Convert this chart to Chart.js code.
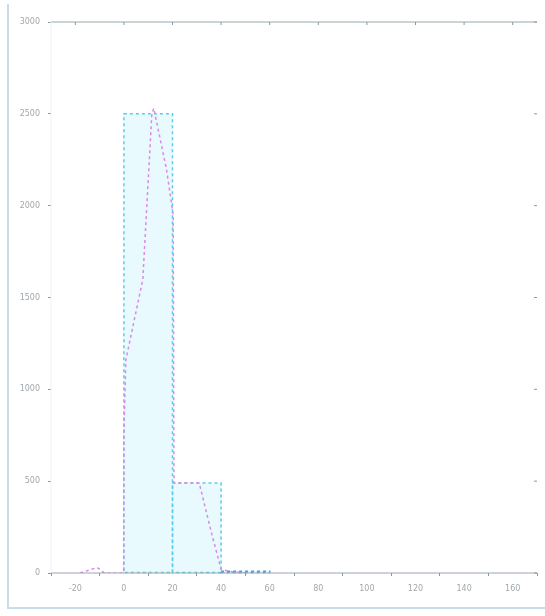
<!DOCTYPE html>
<html>
  <head>
    <title>Histogram</title>
    <script src="https://cdn.jsdelivr.net/npm/chart.js"></script>
    <style>
      body { margin: 0; background: #fff; }
      #wrap { width: 545px; height: 616px; }
    </style>
  </head>
  <body>
    <div id="wrap"><canvas id="hist"></canvas></div>

    <script>
      // histogram bins (centres) and counts
      const binCenters = [10, 30, 50];
      const binCounts = [2500, 490, 10];

      // fitted curve
      const curveX = [-18, -11, -8, -0.1, 0, 0.8, 7.8, 11.5, 12.3, 17.5, 20.3, 20.6, 31, 36, 40, 45, 50];
      const curveY = [0, 30, 0, 0, 760, 1160, 1600, 2500, 2530, 2200, 1950, 490, 490, 220, 20, 5, 0];

      // tick labels
      const xTicks = [-20, 0, 20, 40, 60, 80, 100, 120, 140, 160];
      const yTicks = [0, 500, 1000, 1500, 2000, 2500, 3000];

      const barData = binCenters.map((x, i) => ({ x: x, y: binCounts[i] }));
      const curveData = curveX.map((x, i) => ({ x: x, y: curveY[i] }));

      // draw dashed bar outlines, plot box and outer frame
      const framePlugin = {
        id: 'frame',
        beforeDraw(chart) {
          const ctx = chart.ctx;
          ctx.save();
          ctx.strokeStyle = '#c9dde9';
          ctx.lineWidth = 2;
          ctx.beginPath();
          ctx.moveTo(8, 4);
          ctx.lineTo(8, 608);
          ctx.lineTo(chart.width, 608);
          ctx.stroke();
          ctx.restore();
        },
        beforeDatasetDraw(chart, args) {
          // outline the bars before the curve is drawn on top
          if (args.index !== 0) return;
          const ctx = chart.ctx;
          const meta = chart.getDatasetMeta(1);
          ctx.save();
          ctx.setLineDash([3, 3]);
          ctx.lineWidth = 1.5;
          meta.data.forEach((bar, i) => {
            const p = bar.getProps(['x', 'y', 'base', 'width'], true);
            ctx.strokeStyle = i == 2 ? '#4a9fdc' : '#5ccbee';
            ctx.strokeRect(p.x - p.width / 2, p.y, p.width, p.base - p.y);
          });
          ctx.restore();
        },
        afterDatasetsDraw(chart) {
          const ctx = chart.ctx;
          const a = chart.chartArea;
          ctx.save();
          ctx.strokeStyle = '#9aa7b0';
          ctx.lineWidth = 1;
          ctx.beginPath();
          ctx.moveTo(a.left, a.top);
          ctx.lineTo(a.right, a.top);
          ctx.moveTo(a.left, a.bottom);
          ctx.lineTo(a.right, a.bottom);
          ctx.stroke();
          ctx.strokeStyle = '#eef1f3';
          ctx.beginPath();
          ctx.moveTo(a.left, a.top);
          ctx.lineTo(a.left, a.bottom);
          ctx.stroke();
          // mirrored ticks on top and right
          ctx.strokeStyle = '#8a98a2';
          ctx.beginPath();
          const xs = chart.scales.x, ys = chart.scales.y;
          xTicks.forEach(v => {
            const px = xs.getPixelForValue(v);
            ctx.moveTo(px, a.top);
            ctx.lineTo(px, a.top + 3);
          });
          yTicks.forEach(v => {
            const py = ys.getPixelForValue(v);
            ctx.moveTo(a.right, py);
            ctx.lineTo(a.right - 3, py);
          });
          ctx.stroke();
          ctx.restore();
        }
      };

      new Chart(document.getElementById('hist'), {
        type: 'bar',
        data: {
          datasets: [
            {
              type: 'line',
              label: 'fit',
              data: curveData,
              borderColor: '#d88ae6',
              borderWidth: 1.5,
              borderDash: [3, 3],
              pointRadius: 0,
              tension: 0,
              order: 0
            },
            {
              label: 'count',
              data: barData,
              backgroundColor: '#e8fafd',
              borderWidth: 0,
              barPercentage: 1,
              categoryPercentage: 1,
              order: 1
            }
          ]
        },
        plugins: [framePlugin],
        options: {
          responsive: true,
          maintainAspectRatio: false,
          animation: false,
          layout: { padding: { left: 8, right: 8, top: 22, bottom: 8 } },
          plugins: { legend: { display: false }, tooltip: { enabled: false } },
          scales: {
            x: {
              type: 'linear',
              min: -30,
              max: 170,
              offset: false,
              afterBuildTicks: s => { s.ticks = xTicks.map(v => ({ value: v })); },
              afterFit: s => { s.height = 35; },
              grid: { display: true, drawOnChartArea: false, tickLength: 3, color: '#8a98a2' },
              border: { display: false },
              ticks: { color: '#a0a8ae', font: { family: 'DejaVu Sans', size: 8 }, padding: 8, maxRotation: 0,
                       callback: v => String(v) }
            },
            y: {
              min: 0,
              max: 3000,
              afterBuildTicks: s => { s.ticks = yTicks.map(v => ({ value: v })); },
              afterFit: s => { s.width = 43; },
              grid: { display: true, drawOnChartArea: false, tickLength: 3, color: '#8a98a2' },
              border: { display: false },
              ticks: { color: '#a0a8ae', font: { family: 'DejaVu Sans', size: 8 }, padding: 8,
                       callback: v => String(v) }
            }
          }
        }
      });
    </script>
  </body>
</html>
